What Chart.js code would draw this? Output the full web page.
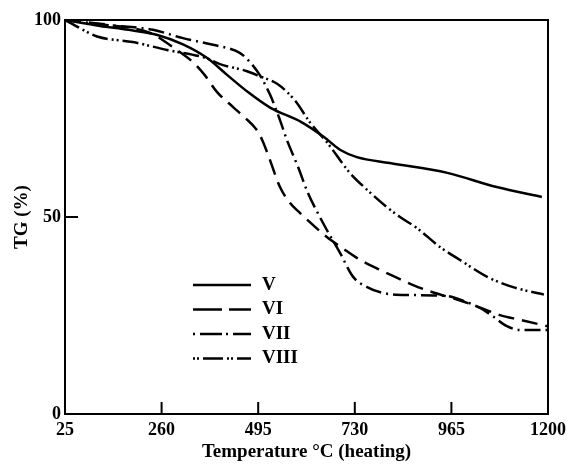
<!DOCTYPE html>
<html>
<head>
<meta charset="utf-8">
<script src="https://cdn.jsdelivr.net/npm/chart.js@4/dist/chart.umd.min.js"></script>
<style>
  html, body { margin: 0; padding: 0; background: #fff; }
  #wrap { width: 572px; height: 464px; }
</style>
</head>
<body>
<div id="wrap"><canvas id="tg"></canvas></div>
<script>
// tick labels
var tempTicks = [25, 260, 495, 730, 965, 1200];
var tgTicks = [0, 50, 100];

// series (temperature / TG %)
var vTemp  = [25, 110, 180, 250, 312, 370, 420, 470, 525, 600, 655, 695, 735, 815, 955, 1075, 1185];
var vTG    = [100, 98.5, 97.5, 96.2, 93.8, 90.4, 86, 81.7, 77.7, 74.1, 70.3, 67, 65.2, 63.7, 61.2, 57.6, 55.1];

var viTemp = [25, 135, 232, 297, 336, 365, 395, 434, 465, 490, 505, 520, 548, 572, 597, 628, 662, 700, 743, 787, 828, 872, 925, 975, 1030, 1083, 1132, 1198];
var viTG   = [100, 98.7, 96.7, 92.4, 89.3, 86, 81.7, 77.9, 75, 72.3, 69.5, 65.5, 57.6, 53.6, 51, 48, 44.9, 42.1, 39.1, 36.8, 34.8, 32.7, 30.7, 29.2, 27.2, 25.1, 23.9, 22.3];

var viiTemp = [25, 130, 239, 312, 385, 451, 475, 499, 524, 548, 565, 592, 616, 645, 662, 694, 726, 760, 799, 864, 950, 1000, 1035, 1066, 1100, 1135, 1198];
var viiTG   = [100, 98.7, 97.5, 95.4, 93.7, 91.6, 89.3, 86, 81, 74.6, 69.5, 62.7, 56.1, 50, 46.7, 40.9, 34.8, 32.2, 30.7, 30.2, 30, 28.5, 26.9, 24.8, 22.3, 21.3, 21.3];

var viiiTemp = [25, 60, 103, 190, 273, 366, 402, 468, 499, 541, 585, 621, 662, 718, 760, 808, 840, 881, 937, 986, 1052, 1115, 1190];
var viiiTG   = [100, 98, 95.8, 94.4, 92.4, 90.4, 88.8, 87, 85.7, 83.8, 79.5, 74, 69, 61.2, 56.9, 52.5, 50, 47.2, 42.4, 39.1, 34.8, 32.2, 30.3];

var names = ['V', 'VI', 'VII', 'VIII'];

function pts(xs, ys) {
	var out = [];
	for (var i = 0; i < xs.length; i++) {
		out.push({ x: xs[i], y: ys[i] });
	}
	return out;
}

var serif = 'Liberation Serif, Times New Roman, serif';

function line(label, data, dash, legendDash) {
	return {
		label: label,
		data: data,
		borderColor: '#000',
		borderWidth: 2.5,
		borderDash: dash,
		legendDash: legendDash,
		pointRadius: 0,
		fill: false,
		cubicInterpolationMode: 'monotone'
	};
}

// box, inward ticks and the legend inside the plot
var framePlugin = {
	id: 'frame',
	afterDatasetsDraw: function(chart) {
		var ctx = chart.ctx;
		var a = chart.chartArea;
		var xs = chart.scales.x, ys = chart.scales.y;
		ctx.save();
		ctx.strokeStyle = '#000';
		ctx.lineWidth = 2;
		ctx.setLineDash([]);
		ctx.strokeRect(a.left, a.top, a.right - a.left, a.bottom - a.top);

		ctx.beginPath();
		xs.ticks.forEach(function(t) {
			var px = xs.getPixelForValue(t.value);
			ctx.moveTo(px, a.bottom);
			ctx.lineTo(px, a.bottom - 12);
		});
		ys.ticks.forEach(function(t) {
			var py = ys.getPixelForValue(t.value);
			ctx.moveTo(a.left, py);
			ctx.lineTo(a.left + 13, py);
		});
		ctx.stroke();

		// legend
		var lx0 = 193, lx1 = 251, ly = 285, step = 24.5;
		ctx.font = 'bold 19px ' + serif;
		ctx.fillStyle = '#000';
		ctx.textBaseline = 'middle';
		chart.data.datasets.forEach(function(ds, i) {
			var y = ly + i * step;
			ctx.beginPath();
			ctx.lineWidth = 2.5;
			ctx.setLineDash(ds.legendDash);
			ctx.moveTo(lx0, y);
			ctx.lineTo(lx1, y);
			ctx.stroke();
			ctx.fillText(ds.label, 262, y);
		});
		ctx.restore();
	}
};

var chartTG = new Chart(document.getElementById('tg'), {
	type: 'line',
	data: {
		datasets: [
			line(names[0], pts(vTemp, vTG), [], []),
			line(names[1], pts(viTemp, viTG), [16, 8], [29, 7]),
			line(names[2], pts(viiTemp, viiTG), [16, 5, 2, 5], [2, 5, 22, 4]),
			line(names[3], pts(viiiTemp, viiiTG), [16, 4, 2, 3, 2, 4], [2, 2, 2, 4, 20, 4])
		]
	},
	options: {
		responsive: true,
		maintainAspectRatio: false,
		animation: false,
		layout: { padding: { top: 20, right: 24, left: 0, bottom: 0 } },
		plugins: { legend: { display: false }, tooltip: { enabled: false } },
		scales: {
			x: {
				type: 'linear',
				min: 25,
				max: 1200,
				afterBuildTicks: function(scale) {
					scale.ticks = tempTicks.map(function(v) { return { value: v }; });
				},
				afterFit: function(scale) { scale.height = 50; },
				grid: { display: false, drawTicks: false },
				border: { display: false },
				ticks: {
					color: '#000',
					padding: 6,
					maxRotation: 0,
					callback: function(v) { return String(v); },
					font: { family: serif, size: 18, weight: 'bold' }
				},
				title: {
					display: true,
					text: 'Temperature °C (heating)',
					color: '#000',
					padding: { top: 0, bottom: 1 },
					font: { family: serif, size: 19, weight: 'bold' }
				}
			},
			y: {
				min: 0,
				max: 100,
				afterBuildTicks: function(scale) {
					scale.ticks = tgTicks.map(function(v) { return { value: v }; });
				},
				afterFit: function(scale) { scale.width = 65; },
				grid: { display: false, drawTicks: false },
				border: { display: false },
				ticks: {
					color: '#000',
					padding: 4,
					callback: function(v) { return String(v); },
					font: { family: serif, size: 18, weight: 'bold' }
				},
				title: {
					display: true,
					text: 'TG (%)',
					color: '#000',
					padding: { top: 11, bottom: 0 },
					font: { family: serif, size: 19, weight: 'bold' }
				}
			}
		}
	},
	plugins: [framePlugin]
});
</script>
</body>
</html>
